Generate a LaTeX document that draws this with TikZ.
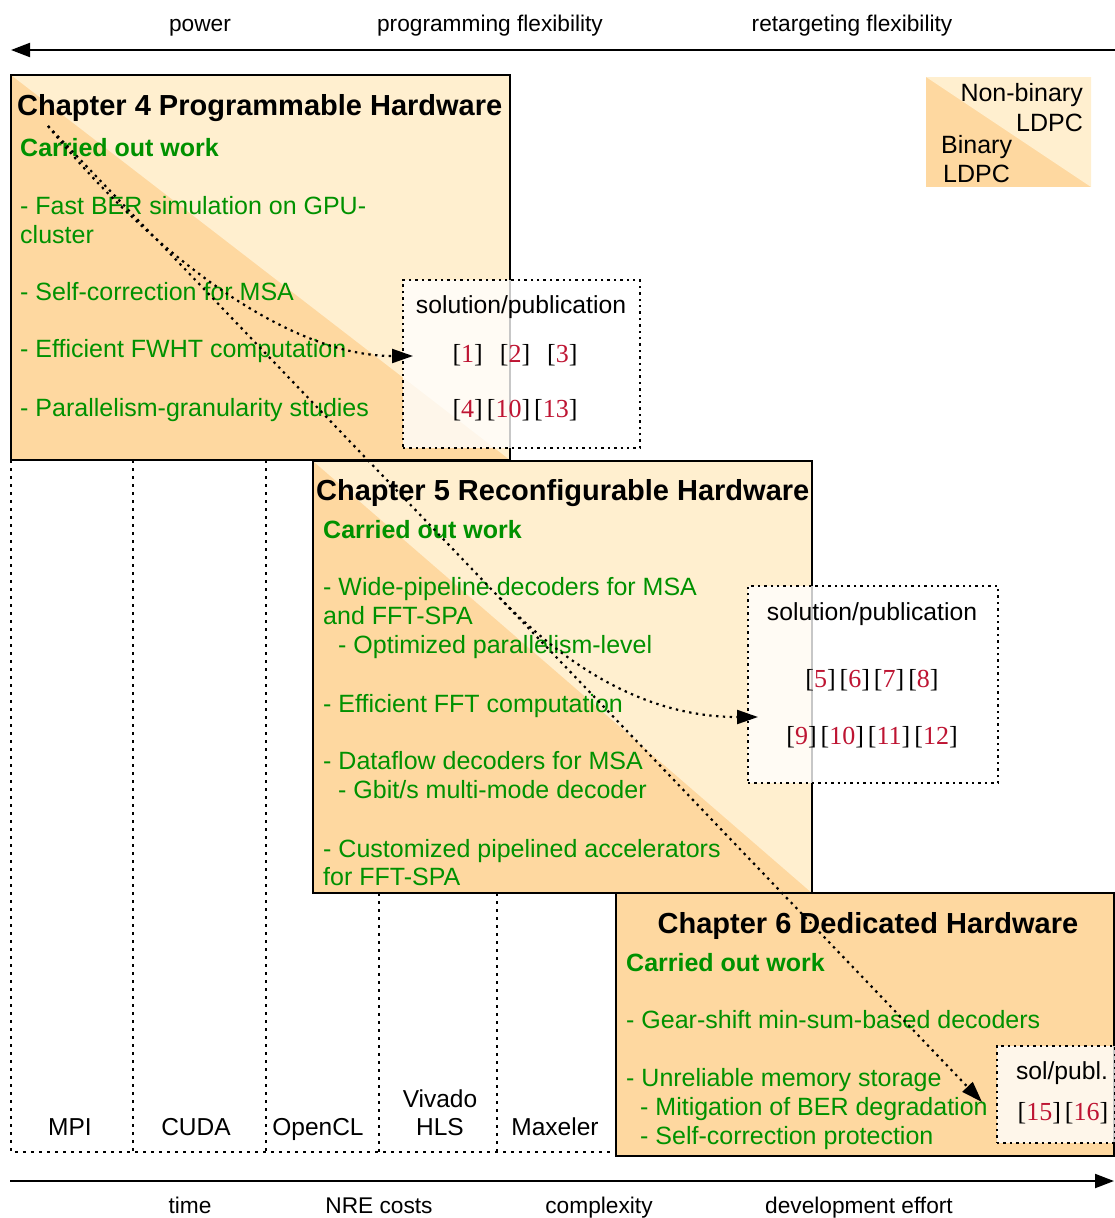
\documentclass[tikz,border=0pt]{standalone}
\usepackage{fontspec}
\newfontfamily\sansfam{Liberation Sans}
\newfontfamily\citefam{Liberation Serif}
\usetikzlibrary{arrows.meta}

\definecolor{darkfill}{RGB}{254,216,160}
\definecolor{lightfill}{RGB}{255,239,207}
\definecolor{workgreen}{RGB}{0,145,0}
\definecolor{citered}{RGB}{190,20,50}

% citation: black brackets, red number
\newcommand\refnum[1]{[\textcolor{citered}{#1}]}

\begin{document}
\begin{tikzpicture}[x=1pt,y=-1pt,
  chapbox/.style={draw=black, line width=1.9pt, fill=darkfill, inner sep=0pt, outer sep=0pt, anchor=north west},
  splitbox/.style={chapbox, path picture={
      \fill[lightfill] (path picture bounding box.north west) -- (path picture bounding box.north east)
        -- (path picture bounding box.south east) -- cycle;}},
  solbox/.style={draw=black, line width=2pt, dash pattern=on 2.4pt off 4pt, fill=white, fill opacity=0.78,
      inner sep=0pt, outer sep=0pt, anchor=north west},
  colline/.style={line width=1.8pt, dash pattern=on 3pt off 5pt},
  flow/.style={line width=2.2pt, dash pattern=on 2.4pt off 4.4pt, -{Triangle[length=21pt,width=14pt]}},
  axisarrow/.style={line width=2pt, -{Triangle[length=19pt,width=14pt]}},
  chaptitle/.style={font=\sansfam\bfseries\fontsize{29}{34}\selectfont, anchor=base west, inner sep=0pt},
  worktitle/.style={font=\sansfam\bfseries\fontsize{25}{30}\selectfont, text=workgreen, anchor=base west, inner sep=0pt},
  item/.style={font=\sansfam\fontsize{25}{30}\selectfont, text=workgreen, anchor=base west, inner sep=0pt},
  soltext/.style={font=\sansfam\fontsize{24.7}{29}\selectfont, anchor=base, inner sep=0pt},
  cites/.style={font=\citefam\fontsize{26}{30}\selectfont, anchor=base, inner sep=0pt},
  tool/.style={font=\sansfam\fontsize{24.5}{29}\selectfont, anchor=base, inner sep=0pt},
  legendtext/.style={font=\sansfam\fontsize{25}{30}\selectfont, inner sep=0pt},
  axislabel/.style={font=\sansfam\fontsize{22.7}{27}\selectfont, anchor=base, inner sep=0pt}]

\useasboundingbox (0,0) rectangle (1115,1218);

% ---------- axes ----------
\coordinate (topR) at (1115,50);
\coordinate (topL) at (11,50);
\draw[axisarrow] (topR) -- (topL);
\node[axislabel] (power) at (200,31) {power};
\node[axislabel] (progflex) at (490,31) {programming flexibility};
\node[axislabel] (retflex) at (852,31) {retargeting flexibility};

\coordinate (botL) at (10,1181);
\coordinate (botR) at (1114,1181);
\draw[axisarrow] (botL) -- (botR);
\node[axislabel] (time) at (190,1213) {time};
\node[axislabel] (nre) at (379,1213) {NRE costs};
\node[axislabel] (cplx) at (599,1213) {complexity};
\node[axislabel] (deveff) at (859,1213) {development effort};

% ---------- tool columns ----------
\draw[colline] (11,460) -- (11,1152) -- (616,1152);
\draw[colline] (133,460) -- (133,1152);
\draw[colline] (266,460) -- (266,1152);
\draw[colline] (379,893) -- (379,1152);
\draw[colline] (497,893) -- (497,1152);
\node[tool] (mpi) at (70,1135) {MPI};
\node[tool] (cuda) at (196,1135) {CUDA};
\node[tool] (opencl) at (318,1135) {OpenCL};
\node[tool] (vivado) at (440,1107) {Vivado};
\node[tool] (hls) at (440,1135) {HLS};
\node[tool] (maxeler) at (555,1135) {Maxeler};

% ---------- chapter boxes ----------
\node[splitbox, minimum width=499pt, minimum height=385pt] (ch4) at (11,75) {};
\node[splitbox, minimum width=499pt, minimum height=432pt] (ch5) at (313,461) {};
\node[chapbox, minimum width=498pt, minimum height=263pt] (ch6) at (616,893) {};

% ---------- legend ----------
\node[splitbox, draw=none, minimum width=165pt, minimum height=110pt] (legend) at (926,77) {};
\node[legendtext, anchor=base east] (nb1) at (1083,101) {Non-binary};
\node[legendtext, anchor=base east] (nb2) at (1083,131) {LDPC};
\node[legendtext, anchor=base west] (b1) at (941,153) {Binary};
\node[legendtext, anchor=base west] (b2) at (943,182) {LDPC};

% ---------- chapter 4 ----------
\node[chaptitle] (t4) at (17,115) {Chapter 4 Programmable Hardware};
\node[worktitle] (w4) at (20,156) {Carried out work};
\node[item] (i41) at (20,214) {- Fast BER simulation on GPU-};
\node[item] (i42) at (20,243) {cluster};
\node[item] (i43) at (20,300) {- Self-correction for MSA};
\node[item] (i44) at (20,357) {- Efficient FWHT computation};
\node[item] (i45) at (20,416) {- Parallelism-granularity studies};

% ---------- chapter 5 ----------
\node[chaptitle] (t5) at (316,500) {Chapter 5 Reconfigurable Hardware};
\node[worktitle] (w5) at (323,538) {Carried out work};
\node[item] (i51) at (323,595) {- Wide-pipeline decoders for MSA};
\node[item] (i52) at (323,624) {and FFT-SPA};
\node[item] (i53) at (338,653) {- Optimized parallelism-level};
\node[item] (i54) at (323,712) {- Efficient FFT computation};
\node[item] (i55) at (323,769) {- Dataflow decoders for MSA};
\node[item] (i56) at (338,798) {- Gbit/s multi-mode decoder};
\node[item] (i57) at (323,857) {- Customized pipelined accelerators};
\node[item] (i58) at (323,885) {for FFT-SPA};

% ---------- chapter 6 ----------
\node[chaptitle, anchor=base] (t6) at (868,933) {Chapter 6 Dedicated Hardware};
\node[worktitle] (w6) at (626,971) {Carried out work};
\node[item] (i61) at (626,1028) {- Gear-shift min-sum-based decoders};
\node[item] (i62) at (626,1086) {- Unreliable memory storage};
\node[item] (i63) at (640,1115) {- Mitigation of BER degradation};
\node[item] (i64) at (640,1144) {- Self-correction protection};

% ---------- solution / publication boxes ----------
\node[solbox, minimum width=237pt, minimum height=168pt] (sol1) at (403,280) {};
\node[soltext] (s1h) at (521,313) {solution/publication};
\node[cites] (s1a) at (515,362) {\refnum{1}\hspace{17pt}\refnum{2}\hspace{17pt}\refnum{3}};
\node[cites] (s1b) at (515,417) {\refnum{4}\hspace{4pt}\refnum{10}\hspace{4pt}\refnum{13}};

\node[solbox, minimum width=250pt, minimum height=197pt] (sol2) at (748,586) {};
\node[soltext] (s2h) at (872,620) {solution/publication};
\node[cites] (s2a) at (872,687) {\refnum{5}\hspace{4pt}\refnum{6}\hspace{4pt}\refnum{7}\hspace{4pt}\refnum{8}};
\node[cites] (s2b) at (872,744) {\refnum{9}\hspace{4pt}\refnum{10}\hspace{4pt}\refnum{11}\hspace{4pt}\refnum{12}};

\node[solbox, minimum width=118pt, minimum height=97pt] (sol3) at (997,1046) {};
\node[soltext] (s3h) at (1062,1079) {sol/publ.};
\node[cites] (s3a) at (1063,1120) {\refnum{15}\hspace{4pt}\refnum{16}};

% ---------- dotted links from the work lists to the publications ----------
\coordinate (src) at (48,126);
\coordinate (branch) at (500,598);
\coordinate (tipA) at (413,356);
\coordinate (tipB) at (758,717);
\coordinate (tipC) at (982,1102);
\draw[flow] (src) .. controls (140,240) and (280,356) .. (tipA);
\draw[flow] (src) -- (tipC);
\draw[flow] (branch) .. controls (560,660) and (640,717) .. (tipB);

\end{tikzpicture}
\end{document}
